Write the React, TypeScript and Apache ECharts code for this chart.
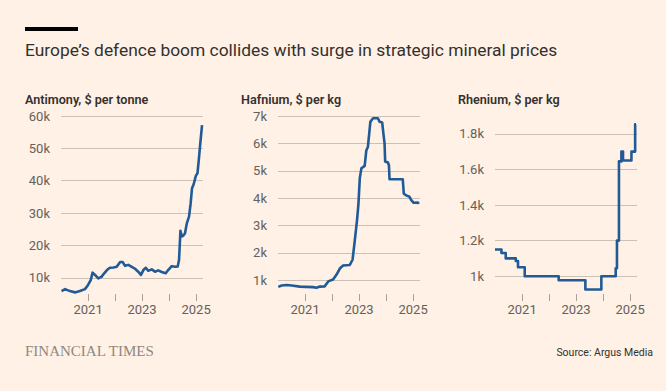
import React, { useEffect, useRef } from "react";
import * as echarts from "echarts";

// ---- Data (dates, values) ----
const antimonyDates = [
  "2020-01-08", "2020-02-25", "2020-05-01", "2020-07-08", "2020-09-12", "2020-11-20",
  "2021-01-01", "2021-02-06", "2021-03-03", "2021-04-05", "2021-05-19", "2021-07-01",
  "2021-08-07", "2021-09-13", "2021-10-23", "2021-12-10", "2022-01-23", "2022-03-11",
  "2022-04-13", "2022-05-16", "2022-06-29", "2022-08-15", "2022-09-28", "2022-11-10",
  "2022-12-17", "2023-01-19", "2023-02-21", "2023-03-25", "2023-05-12", "2023-06-25",
  "2023-08-08", "2023-09-24", "2023-11-17", "2023-12-20", "2024-02-06", "2024-04-01",
  "2024-04-27", "2024-05-15", "2024-06-03", "2024-06-22", "2024-07-10", "2024-08-03",
  "2024-08-28", "2024-09-27", "2024-10-19", "2024-11-06", "2024-11-30", "2024-12-28",
  "2025-01-19", "2025-02-06", "2025-02-24", "2025-03-22",
];
const antimonyValues = [
  5900, 6500, 5900, 5500, 5900, 6500,
  7800, 9300, 11600, 10900, 9800, 10300,
  11400, 12400, 13100, 13200, 13400, 14900,
  14900, 13700, 14000, 13400, 12800, 11900,
  10900, 12400, 13100, 12200, 12600, 11900,
  12300, 11800, 11400, 12400, 13600, 13400,
  13500, 15500, 24500, 22800, 23000, 23700,
  26800, 28900, 33000, 37600, 39000, 41500,
  42300, 46400, 51000, 57200,
];

const hafniumDates = [
  "2020-01-05", "2020-02-20", "2020-04-27", "2020-07-04", "2020-10-23", "2021-04-19",
  "2021-06-05", "2021-07-19", "2021-09-24", "2021-11-10", "2022-01-15", "2022-03-03",
  "2022-04-16", "2022-05-30", "2022-08-29", "2022-10-05", "2022-11-03", "2022-12-05",
  "2022-12-23", "2023-01-11", "2023-02-02", "2023-03-18", "2023-04-09", "2023-05-01",
  "2023-06-03", "2023-07-09", "2023-09-13", "2023-10-05", "2023-11-10", "2023-11-28",
  "2023-12-12", "2023-12-20", "2024-01-26", "2024-02-09", "2024-02-17", "2024-08-14",
  "2024-08-28", "2024-09-30", "2024-11-13", "2024-12-05", "2025-01-08", "2025-03-07",
  "2025-03-18",
];
const hafniumValues = [
  760, 810, 830, 810, 770, 750,
  730, 770, 780, 960, 1030, 1210,
  1430, 1540, 1560, 1750, 2420, 3210,
  3760, 4730, 5090, 5180, 5740, 5880,
  6790, 6920, 6920, 6790, 6760, 6310,
  6000, 5340, 5300, 5200, 4690, 4690,
  4160, 4100, 4050, 3940, 3830, 3840,
  3790,
];

// Rhenium is a stepped series: each value starts at its date
const rheniumDates = [
  "2020-01-01", "2020-03-28", "2020-05-25", "2020-10-08", "2020-11-07", "2021-02-06",
  "2022-05-11", "2023-05-07", "2023-12-09", "2024-06-20", "2024-07-07", "2024-08-03",
  "2024-09-05", "2024-09-27", "2025-01-19", "2025-03-10", "2025-03-22",
];
const rheniumValues = [
  1150, 1130, 1100, 1085, 1050, 1000,
  977, 925, 1000, 1045, 1200, 1645,
  1700, 1650, 1700, 1853, 1853,
];

const yearTicks = ["2021-01-01", "2022-01-01", "2023-01-01", "2024-01-01", "2025-01-01"];
const yearLabels = ["2021-01-01", "2023-01-01", "2025-01-01"];

const antimonyTicks = [10000, 20000, 30000, 40000, 50000, 60000];
const hafniumTicks = [1000, 2000, 3000, 4000, 5000, 6000, 7000];
const rheniumTicks = [1000, 1200, 1400, 1600, 1800];

const panelTitles = ["Antimony, $ per tonne", "Hafnium, $ per kg", "Rhenium, $ per kg"];
const mainTitle = "Europe\u2019s defence boom collides with surge in strategic mineral prices";
const sourceText = "Source: Argus Media";
const brandText = "FINANCIAL TIMES";

const BG = "#fff1e5";
const INK = "#33302e";
const MUTED = "#66605c";
const GRID = "#ccc1b7";
const LINE = "#205b97";
const FONT = "Roboto, 'Noto Sans', sans-serif";

function fmtK(v: number) {
  const k = v / 1000;
  return (Math.round(k * 10) / 10).toString() + "k";
}

function ts(s: string) {
  const [y, m, d] = s.split("-").map(Number);
  return Date.UTC(y, m - 1, d);
}

export default function App() {
  const ref = useRef<HTMLDivElement>(null);
  useEffect(() => {
    document.body.style.margin = "0";
    document.body.style.background = BG;
    if (!ref.current) return;
    const chart = echarts.init(ref.current, undefined, { renderer: "svg" });
    const xMin = ts("2020-01-01");
    const xMax = ts("2025-04-04");

    const lefts = [61, 278, 495];
    const grids = lefts.map((l) => ({ left: l, width: 142, top: 116, height: 178 }));

    const xAxes = lefts.map((_, i) => ({
      type: "value",
      gridIndex: i,
      min: xMin,
      max: xMax,
      axisLine: { show: false },
      splitLine: { show: false },
      axisTick: {
        show: true,
        length: 7,
        customValues: yearTicks.map(ts),
        lineStyle: { color: "#aaa097", width: 1 },
      },
      axisLabel: {
        customValues: yearLabels.map(ts),
        formatter: (v: number) => String(new Date(v).getUTCFullYear()),
        color: MUTED,
        fontSize: 13,
        fontFamily: FONT,
        margin: 9,
      },
    }));

    const yConf = [
      { min: 5000, max: 60000, ticks: antimonyTicks },
      { min: 500, max: 7000, ticks: hafniumTicks },
      { min: 900, max: 1900, ticks: rheniumTicks },
    ];
    const yAxes = yConf.map((c, i) => ({
      type: "value",
      gridIndex: i,
      min: c.min,
      max: c.max,
      axisLine: { show: false },
      axisTick: { show: false, customValues: c.ticks },
      splitLine: { show: true, lineStyle: { color: GRID, width: 1 } },
      axisLabel: {
        customValues: c.ticks,
        formatter: (v: number) => fmtK(v),
        color: MUTED,
        fontSize: 13,
        fontFamily: FONT,
        margin: 11,
      },
    }));

    const mk = (d: string[], v: number[]) => d.map((s, i) => [ts(s), v[i]]);
    const baseSeries = {
      type: "line",
      showSymbol: false,
      symbol: "none",
      lineStyle: { color: LINE, width: 2.6, join: "round" },
      silent: true,
    };

    chart.setOption({
      animation: false,
      backgroundColor: BG,
      grid: grids,
      xAxis: xAxes,
      yAxis: yAxes,
      series: [
        { ...baseSeries, xAxisIndex: 0, yAxisIndex: 0, data: mk(antimonyDates, antimonyValues) },
        { ...baseSeries, xAxisIndex: 1, yAxisIndex: 1, data: mk(hafniumDates, hafniumValues) },
        { ...baseSeries, xAxisIndex: 2, yAxisIndex: 2, step: "end", data: mk(rheniumDates, rheniumValues) },
      ],
      graphic: [
        { type: "rect", shape: { x: 25, y: 27, width: 53, height: 4 }, style: { fill: "#000" } },
        {
          type: "text",
          x: 25,
          y: 50,
          style: { text: mainTitle, fontSize: 17.4, fill: INK, fontFamily: FONT, verticalAlign: "middle" },
        },
        ...panelTitles.map((t, i) => ({
          type: "text",
          x: [25, 241, 458][i],
          y: 99,
          style: { text: t, fontSize: 12.6, fontWeight: 600, fill: INK, fontFamily: FONT, verticalAlign: "middle" },
        })),
        {
          type: "text",
          x: 25,
          y: 351,
          style: {
            text: brandText,
            fontSize: 15,
            fill: "#8f8780",
            fontFamily: "'Liberation Serif', 'DejaVu Serif', serif",
            verticalAlign: "middle",
          },
        },
        {
          type: "text",
          x: 653,
          y: 352,
          style: { text: sourceText, fontSize: 10.5, fill: INK, fontFamily: FONT, align: "right", verticalAlign: "middle" },
        },
      ],
    });
    return () => chart.dispose();
  }, []);
  return <div ref={ref} style={{ width: 666, height: 391, background: BG }} />;
}
